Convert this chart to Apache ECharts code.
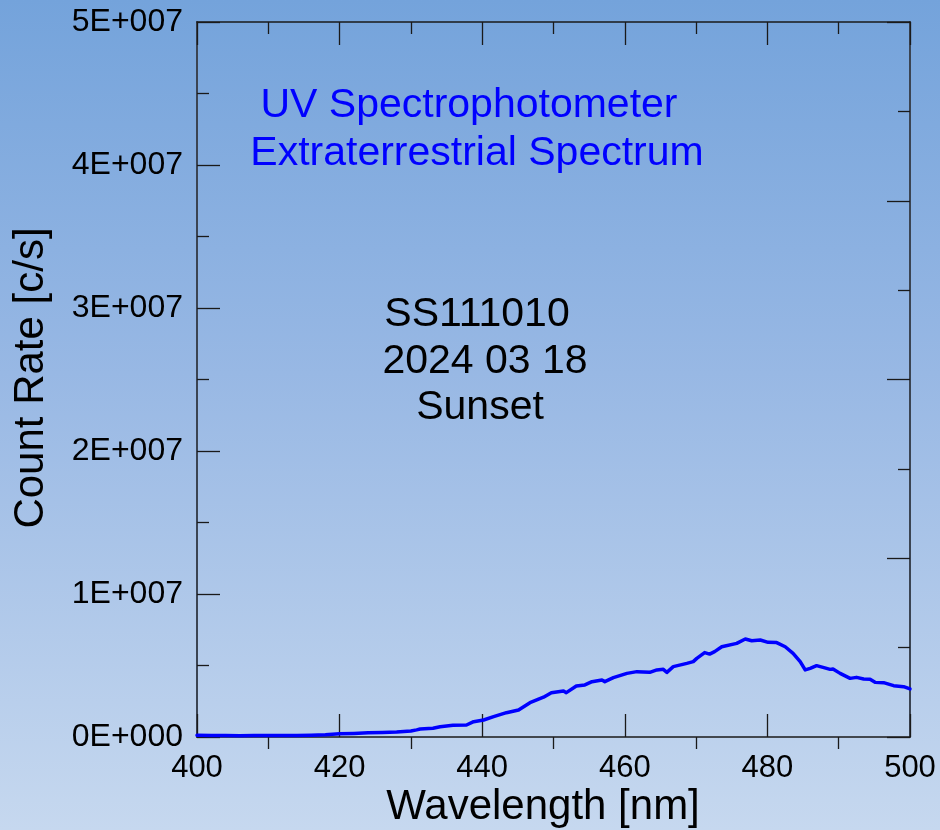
<!DOCTYPE html>
<html>
<head>
<meta charset="utf-8">
<title>UV Spectrophotometer – Extraterrestrial Spectrum</title>
<script src="https://cdn.jsdelivr.net/npm/echarts@6/dist/echarts.min.js"></script>
<style>
  html, body { margin: 0; padding: 0; }
  body { width: 940px; height: 830px; background: linear-gradient(to bottom, #74a3db 0%, #98b8e4 45%, #c6d8ef 100%); }
  #chart { width: 940px; height: 830px; }
</style>
</head>
<body>
<div id="chart"></div>
<script>
// Wavelength samples [nm]
const wavelengths = [
  400, 402, 404, 406, 408, 410, 412, 414, 416, 418,
  420, 422, 424, 426, 428, 430, 430.8, 431.3, 433.1, 434.1,
  435.9, 437.8, 438.8, 440.2, 441.6, 443.4, 445.1, 446.7, 448.6, 449.7,
  451.4, 451.8, 453.2, 454.4, 455.4, 456.8, 457.2, 458.4, 460.3, 461.7,
  463.5, 464.5, 465.4, 465.9, 466.8, 468.7, 469.6, 470.1, 471.2, 471.9,
  472.6, 473.6, 475.7, 476.9, 477.8, 479.0, 480.1, 481.3, 482.5, 483.6,
  484.6, 485.3, 486.0, 486.9, 487.8, 488.8, 489.2, 490.2, 491.6, 492.5,
  493.5, 494.4, 495.1, 496.3, 497.7, 499.1, 500.0
];

// Measured count rate [c/s]
const countRates = [
  1.2e5, 1.0e5, 1.1e5, 0.9e5, 1.0e5, 1.1e5, 1.0e5, 1.1e5, 1.3e5, 1.6e5,
  2.2e5, 2.5e5, 2.9e5, 3.1e5, 3.5e5, 4.2e5, 5.0e5, 5.6e5, 6.1e5, 7.2e5,
  8.2e5, 8.4e5, 1.07e6, 1.19e6, 1.42e6, 1.70e6, 1.89e6, 2.40e6, 2.78e6, 3.10e6,
  3.22e6, 3.10e6, 3.57e6, 3.64e6, 3.87e6, 3.99e6, 3.87e6, 4.15e6, 4.45e6, 4.57e6,
  4.52e6, 4.69e6, 4.73e6, 4.52e6, 4.92e6, 5.15e6, 5.27e6, 5.50e6, 5.90e6, 5.80e6,
  5.97e6, 6.31e6, 6.55e6, 6.85e6, 6.73e6, 6.78e6, 6.62e6, 6.60e6, 6.31e6, 5.85e6,
  5.27e6, 4.69e6, 4.80e6, 4.99e6, 4.87e6, 4.73e6, 4.76e6, 4.45e6, 4.10e6, 4.17e6,
  4.06e6, 4.03e6, 3.82e6, 3.80e6, 3.59e6, 3.52e6, 3.36e6
];

// Tick labels of the count-rate axis (0 .. 5E+007 in steps of 1E+007)
const yTickLabels = ['0E+000', '1E+007', '2E+007', '3E+007', '4E+007', '5E+007'];

const titleLines = ['UV Spectrophotometer', 'Extraterrestrial Spectrum'];
const infoLines = ['SS111010', '2024 03 18', 'Sunset'];
const xAxisTitle = 'Wavelength [nm]';
const yAxisTitle = 'Count Rate [c/s]';

const FONT = '"Liberation Sans", Arial, Helvetica, sans-serif';
const AXIS_DARK = '#1a1a1a';
const AXIS_SLATE = '#3b4452';

const chart = echarts.init(document.getElementById('chart'), null, { renderer: 'canvas' });

const tickStyle = { color: AXIS_DARK, width: 1.3 };

const option = {
  backgroundColor: 'transparent',
  animation: false,
  grid: {
    left: 197, right: 30, top: 22, bottom: 93,
    containLabel: false,
    outerBoundsMode: 'none',
    show: false
  },
  xAxis: [
    { // bottom axis with labels, long inward ticks every 20 nm
      type: 'value', position: 'bottom', min: 400, max: 500, interval: 20,
      axisLine: { show: true, onZero: false, lineStyle: { color: AXIS_DARK, width: 1.6 } },
      axisTick: { show: true, inside: true, length: 23, lineStyle: tickStyle },
      minorTick: { show: false },
      axisLabel: { show: true, margin: 16, fontSize: 31, color: '#000', fontFamily: FONT },
      splitLine: { show: false }
    },
    { // bottom axis: short outward ticks at the odd 10 nm marks
      type: 'value', position: 'bottom', min: 400, max: 500, interval: 20,
      axisLine: { show: false, onZero: false },
      axisTick: { show: false },
      minorTick: { show: true, splitNumber: 2, length: 12, lineStyle: tickStyle },
      axisLabel: { show: false },
      splitLine: { show: false }
    },
    { // top axis mirror: long and short inward ticks
      type: 'value', position: 'top', min: 400, max: 500, interval: 20,
      axisLine: { show: true, onZero: false, lineStyle: { color: AXIS_DARK, width: 1.6 } },
      axisTick: { show: true, inside: true, length: 23, lineStyle: tickStyle },
      minorTick: { show: true, splitNumber: 2, length: 12, lineStyle: tickStyle },
      axisLabel: { show: false },
      splitLine: { show: false }
    }
  ],
  yAxis: [
    { // count-rate axis
      type: 'value', position: 'left', min: 0, max: 5e7, interval: 1e7,
      axisLine: { show: true, onZero: false, lineStyle: { color: AXIS_SLATE, width: 2 } },
      axisTick: { show: true, inside: true, length: 23, lineStyle: tickStyle },
      minorTick: { show: true, splitNumber: 2, length: 12, lineStyle: tickStyle },
      axisLabel: {
        show: true, margin: 14, fontSize: 32, color: '#000', fontFamily: FONT,
        formatter: (v) => yTickLabels[Math.round(v / 1e7)]
      },
      splitLine: { show: false }
    },
    { // right frame axis with its own 8-step tick grid
      type: 'value', position: 'right', min: 0, max: 4, interval: 1,
      axisLine: { show: true, onZero: false, lineStyle: { color: AXIS_SLATE, width: 2 } },
      axisTick: { show: true, inside: true, length: 23, lineStyle: tickStyle },
      minorTick: { show: true, splitNumber: 2, length: 12, lineStyle: tickStyle },
      axisLabel: { show: false },
      splitLine: { show: false }
    }
  ],
  series: [
    {
      type: 'line',
      xAxisIndex: 0,
      yAxisIndex: 0,
      data: wavelengths.map((w, i) => [w, countRates[i]]),
      showSymbol: false,
      smooth: false,
      clip: true,
      lineStyle: { color: '#0000ff', width: 3.5, join: 'round', cap: 'round' },
      z: 3
    }
  ],
  graphic: [
    { type: 'text', x: 469, y: 106, style: { text: titleLines[0], font: '41px ' + FONT, fill: '#0000ff', align: 'center', verticalAlign: 'middle' } },
    { type: 'text', x: 477, y: 154, style: { text: titleLines[1], font: '41px ' + FONT, fill: '#0000ff', align: 'center', verticalAlign: 'middle' } },
    { type: 'text', x: 477, y: 315, style: { text: infoLines[0], font: '41px ' + FONT, fill: '#000', align: 'center', verticalAlign: 'middle' } },
    { type: 'text', x: 485, y: 362, style: { text: infoLines[1], font: '41px ' + FONT, fill: '#000', align: 'center', verticalAlign: 'middle' } },
    { type: 'text', x: 480, y: 408, style: { text: infoLines[2], font: '41px ' + FONT, fill: '#000', align: 'center', verticalAlign: 'middle' } },
    { type: 'text', x: 543, y: 807, style: { text: xAxisTitle, font: '42px ' + FONT, fill: '#000', align: 'center', verticalAlign: 'middle' } },
    { type: 'text', x: 31, y: 378, rotation: Math.PI / 2, style: { text: yAxisTitle, font: '42px ' + FONT, fill: '#000', align: 'center', verticalAlign: 'middle' } }
  ]
};

chart.setOption(option);
</script>
</body>
</html>
